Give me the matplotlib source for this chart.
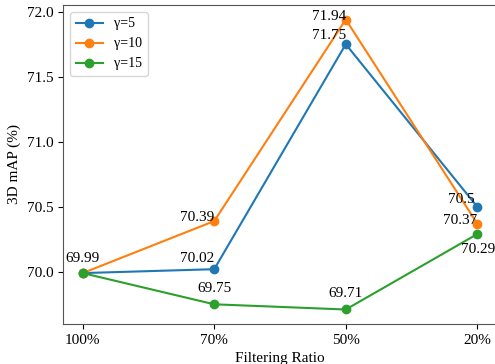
import matplotlib
matplotlib.use("Agg")
import matplotlib.pyplot as plt

plt.rcParams['font.family'] = ['Liberation Serif', 'DejaVu Serif']
plt.rcParams['font.size'] = 11

# ------------------- Data -------------------
ratios = ["100%", "70%", "50%", "20%"]
map_g5 = [69.99, 70.02, 71.75, 70.5]
map_g10 = [69.99, 70.39, 71.94, 70.37]
map_g15 = [69.99, 69.75, 69.71, 70.29]
labels = ["γ=5", "γ=10", "γ=15"]

# label placement: (dx px, dy px up, ha), None = no label
place_g5 = [None, (0, 7, "right"), (0, 5, "right"), (-3, 4, "right")]
place_g10 = [None, (0, 0, "right"), (0, 0, "right"), (0, 0, "right")]
place_g15 = [(0, 11, "center"), (0, 12, "center"), (0, 12, "center"), (1, -19, "center")]

fig = plt.figure(figsize=(4.95, 3.64), dpi=100)
ax = fig.add_axes([63 / 495, 40 / 364, 434 / 495, 319 / 364])

x = range(len(ratios))
for vals, lab, places in [(map_g5, labels[0], place_g5),
                          (map_g10, labels[1], place_g10),
                          (map_g15, labels[2], place_g15)]:
    ax.plot(x, vals, marker='o', markersize=6, label=lab)
    for i, v in enumerate(vals):
        if places[i] is None:
            continue
        dx, dy, ha = places[i]
        ax.annotate(f"{v:g}", (i, v), textcoords='offset points',
                    xytext=(dx * 0.72, dy * 0.72), ha=ha, va='baseline',
                    fontsize=11)

ax.set_xticks(list(x))
ax.set_xticklabels(ratios)
ax.set_yticks([70.0, 70.5, 71.0, 71.5, 72.0])
ax.set_xlabel("Filtering Ratio")
ax.set_ylabel("3D mAP (%)")
for s in ax.spines.values():
    s.set_color('#555555')
ax.legend(loc='upper left', fontsize=10)

plt.savefig("out.png", dpi=100)
